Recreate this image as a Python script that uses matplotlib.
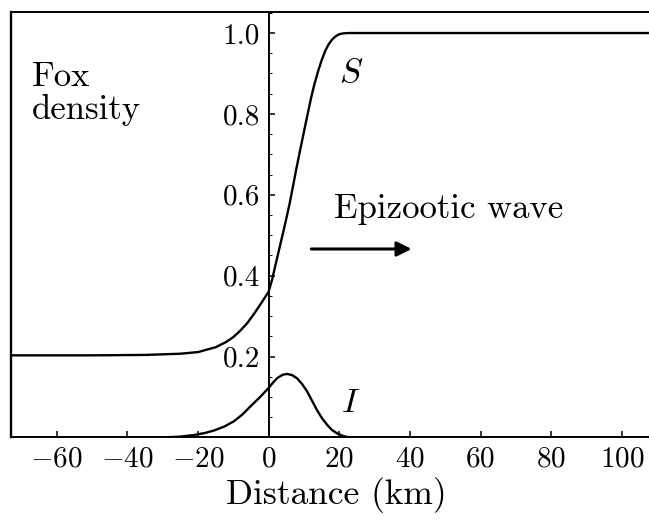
import matplotlib
matplotlib.use("Agg")
import matplotlib.pyplot as plt
from matplotlib.ticker import MultipleLocator

plt.rcParams["font.family"] = "serif"
plt.rcParams["font.serif"] = ["cmr10"]
plt.rcParams["mathtext.fontset"] = "cm"
plt.rcParams["axes.formatter.use_mathtext"] = True

# susceptible foxes across the travelling wave
s_km = [-73, -50, -35, -25, -20, -15, -12, -10, -8, -6, -4, -2, 0, 1, 2, 3,
        4, 5, 6, 7, 8, 9, 10, 11, 12, 13, 14, 15, 16, 17, 18, 19, 20, 21,
        22.5, 25, 108]
s_density = [0.203, 0.203, 0.204, 0.207, 0.211, 0.223, 0.236, 0.248, 0.264,
             0.283, 0.307, 0.333, 0.36, 0.39, 0.428, 0.465, 0.502, 0.54,
             0.58, 0.625, 0.67, 0.713, 0.755, 0.797, 0.838, 0.874, 0.905,
             0.932, 0.955, 0.972, 0.984, 0.992, 0.997, 0.999, 1.0, 1.0, 1.0]

# infected foxes
i_km = [-73, -30, -25, -21, -18, -15.5, -12.5, -9.8, -7.5, -5.1, -2.5, 0, 1.2,
        2.5, 4, 5.3, 6.7, 8.1, 9.5, 10.9, 12.3, 13.7, 15.1, 16.6, 18, 19.4,
        21, 22.3, 25, 108]
i_density = [0.0, 0.0, 0.002, 0.006, 0.011, 0.017, 0.027, 0.04, 0.056, 0.077,
             0.099, 0.122, 0.135, 0.147, 0.155, 0.157, 0.154, 0.146, 0.132,
             0.114, 0.091, 0.068, 0.048, 0.031, 0.018, 0.01, 0.004, 0.001,
             0.0, 0.0]

x_ticks = [-60, -40, -20, 0, 20, 40, 60, 80, 100]
y_ticks = [0.2, 0.4, 0.6, 0.8, 1.0]

fig = plt.figure(figsize=(6.49, 5.22), dpi=100)
ax = fig.add_axes([0.017, 0.162, 0.983, 0.815])

ax.plot(s_km, s_density, color="black", lw=1.7)
ax.plot(i_km, i_density, color="black", lw=1.7)

ax.set_xlim(-72.9, 107.7)
ax.set_ylim(0, 1.052)

# y axis runs through x = 0, the outer box stays on the left
ax.spines["left"].set_position(("data", 0))
ax.spines["right"].set_visible(False)
for side in ["left", "top", "bottom"]:
    ax.spines[side].set_linewidth(1.4)
ax.plot([0, 0], [0, 1], transform=ax.transAxes, color="black", lw=1.7,
        clip_on=False)

ax.set_xticks(x_ticks)
ax.set_yticks(y_ticks)
ax.set_yticklabels([f"{v:.1f}" for v in y_ticks])
ax.yaxis.set_minor_locator(MultipleLocator(0.05))
ax.tick_params(axis="both", which="major", direction="in", length=4,
               width=1.1, labelsize=21)
ax.tick_params(axis="x", pad=6)
ax.tick_params(axis="y", pad=6)
ax.tick_params(axis="y", which="minor", direction="in", length=2, width=0.7)

ax.set_xlabel("Distance (km)", fontsize=25.5)
ax.xaxis.set_label_coords(0.51, -0.093)

ax.text(-67, 0.93, "Fox\ndensity", fontsize=25, ha="left", va="top",
        linespacing=1.05)
ax.text(23.5, 0.90, "$S$", fontsize=25, ha="center", va="center")
ax.text(23.3, 0.085, "$I$", fontsize=25, ha="center", va="center")
ax.text(18.4, 0.543, "Epizootic wave", fontsize=25, ha="left",
        va="baseline")
ax.annotate("", xy=(40.5, 0.466), xytext=(12.1, 0.466),
            arrowprops=dict(arrowstyle="-|>", color="black", lw=2.2,
                            mutation_scale=22, shrinkA=0, shrinkB=0))

fig.savefig("out.png", dpi=100)
